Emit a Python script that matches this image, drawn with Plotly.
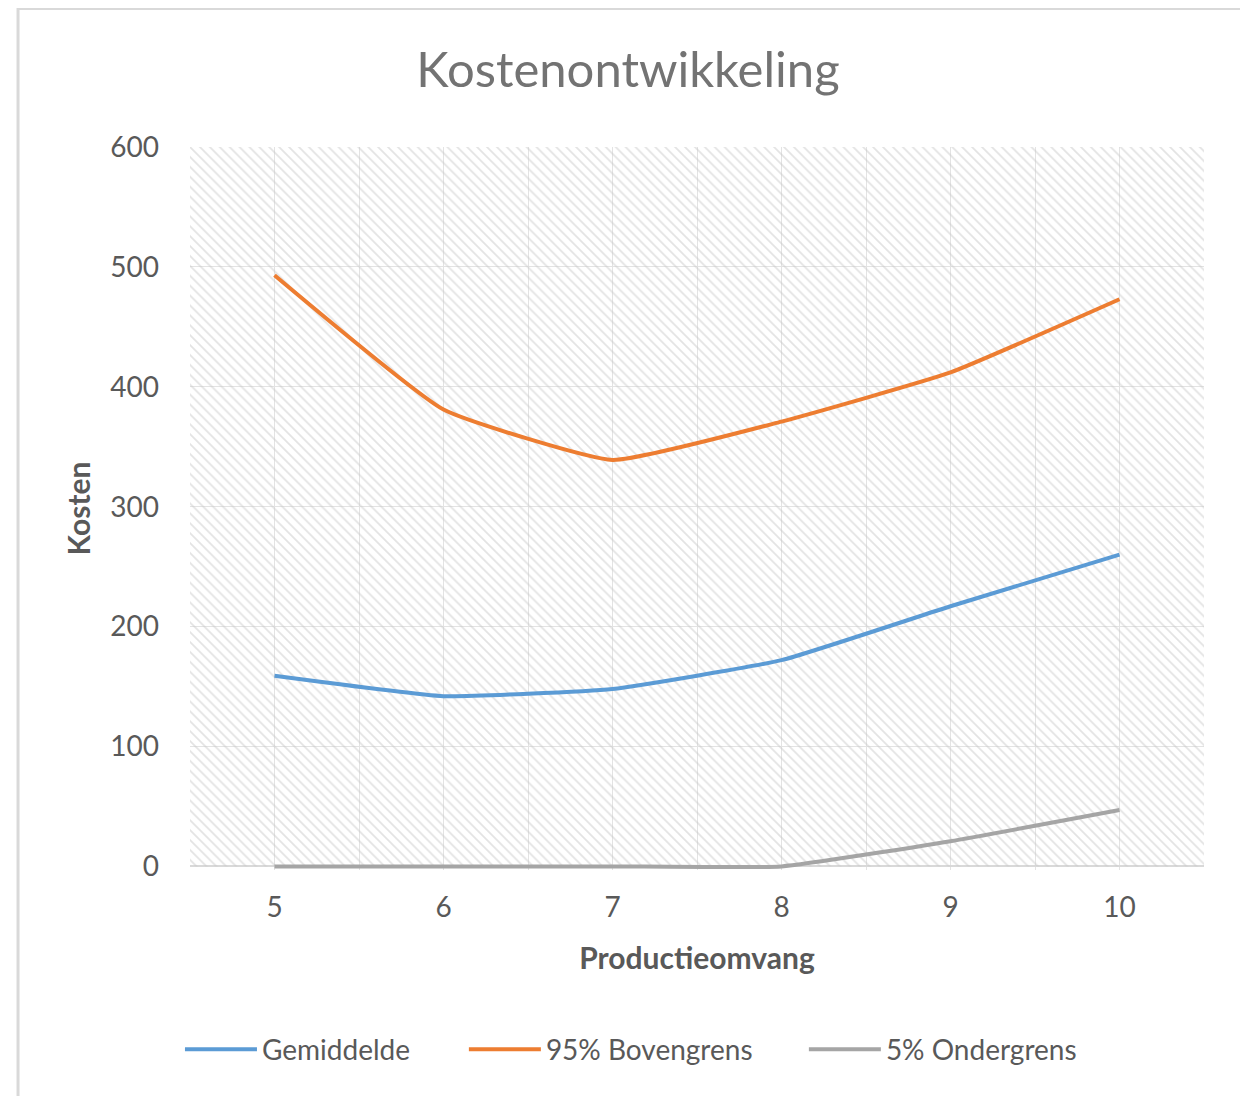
import plotly.graph_objects as go

productie = [5, 6, 7, 8, 9, 10]
gemiddelde = [159, 142, 148, 172, 217, 260]
bovengrens = [493, 381, 339, 371, 412, 473]
ondergrens = [0, 0, 0, 0, 21, 47]

x_range = [4.5, 10.5]
y_range = [-3, 600]
hatch_y = [0, 600]

TEXT = "#595959"
GRID = "#e3e3e3"
FONT = "Lato, 'Open Sans', sans-serif"

fig = go.Figure()

# hatched plot-area background
fig.add_trace(
    go.Scatter(
        x=[x_range[0], x_range[1], x_range[1], x_range[0], x_range[0]],
        y=[hatch_y[0], hatch_y[0], hatch_y[1], hatch_y[1], hatch_y[0]],
        mode="none",
        fill="toself",
        fillcolor="rgba(0,0,0,0)",
        fillpattern={"shape": "\\", "fgcolor": "#c8c8c8", "size": 7, "solidity": 0.25, "fillmode": "overlay"},
        hoverinfo="skip",
        showlegend=False,
    )
)

series = [
    ("Gemiddelde", gemiddelde, "#5b9bd5", "legend"),
    ("95% Bovengrens", bovengrens, "#ed7d31", "legend2"),
    ("5% Ondergrens", ondergrens, "#a5a5a5", "legend3"),
]
for name, values, color, legend in series:
    fig.add_trace(
        go.Scatter(
            x=productie,
            y=values,
            mode="lines",
            name=name,
            legend=legend,
            line={"color": color, "width": 4, "shape": "spline", "smoothing": 0.4},
        )
    )

legend_style = {
    "orientation": "h",
    "xanchor": "left",
    "y": -0.2483,
    "yanchor": "middle",
    "itemwidth": 72,
    "font": {"size": 28, "color": TEXT},
    "bgcolor": "rgba(0,0,0,0)",
}

fig.update_layout(
    width=1240,
    height=1088,
    paper_bgcolor="white",
    plot_bgcolor="white",
    margin={"l": 182, "r": 44, "t": 139, "b": 226},
    font={"family": FONT, "color": TEXT, "size": 28},
    title={
        "text": "Kostenontwikkeling",
        "x": 0.5,
        "xanchor": "center",
        "y": 0.943,
        "yanchor": "middle",
        "font": {"size": 49, "color": "#737373"},
    },
    legend={**legend_style, "x": -0.0099},
    legend2={**legend_style, "x": 0.2701},
    legend3={**legend_style, "x": 0.6054},
    shapes=[
        {
            "type": "rect",
            "xref": "paper",
            "yref": "paper",
            "x0": -0.1696,
            "x1": 1.0375,
            "y0": -0.33,
            "y1": 1.1917,
            "line": {"color": "#d9d9d9", "width": 3},
            "fillcolor": "rgba(0,0,0,0)",
            "layer": "below",
        }
    ],
)

fig.update_xaxes(
    range=x_range,
    tickvals=productie,
    showgrid=True,
    gridcolor=GRID,
    gridwidth=1,
    minor={"tickvals": [v - 0.5 for v in productie] + [productie[-1] + 0.5], "showgrid": True, "gridcolor": GRID},
    zeroline=False,
    showline=False,
    ticks="",
    ticklabelstandoff=18,
    tickfont={"size": 28, "color": TEXT},
    title={"text": "<b>Productieomvang</b>", "font": {"size": 30, "color": TEXT}, "standoff": 25},
)
fig.update_yaxes(
    range=y_range,
    tickvals=[0, 100, 200, 300, 400, 500, 600],
    showgrid=True,
    gridcolor=GRID,
    gridwidth=1,
    zeroline=True,
    zerolinecolor="#d9d9d9",
    zerolinewidth=2,
    showline=False,
    ticks="",
    ticklabelstandoff=30,
    tickfont={"size": 28, "color": TEXT},
    title={"text": "<b>Kosten</b>", "font": {"size": 30, "color": TEXT}, "standoff": 10},
)

fig.write_html("out.html")
